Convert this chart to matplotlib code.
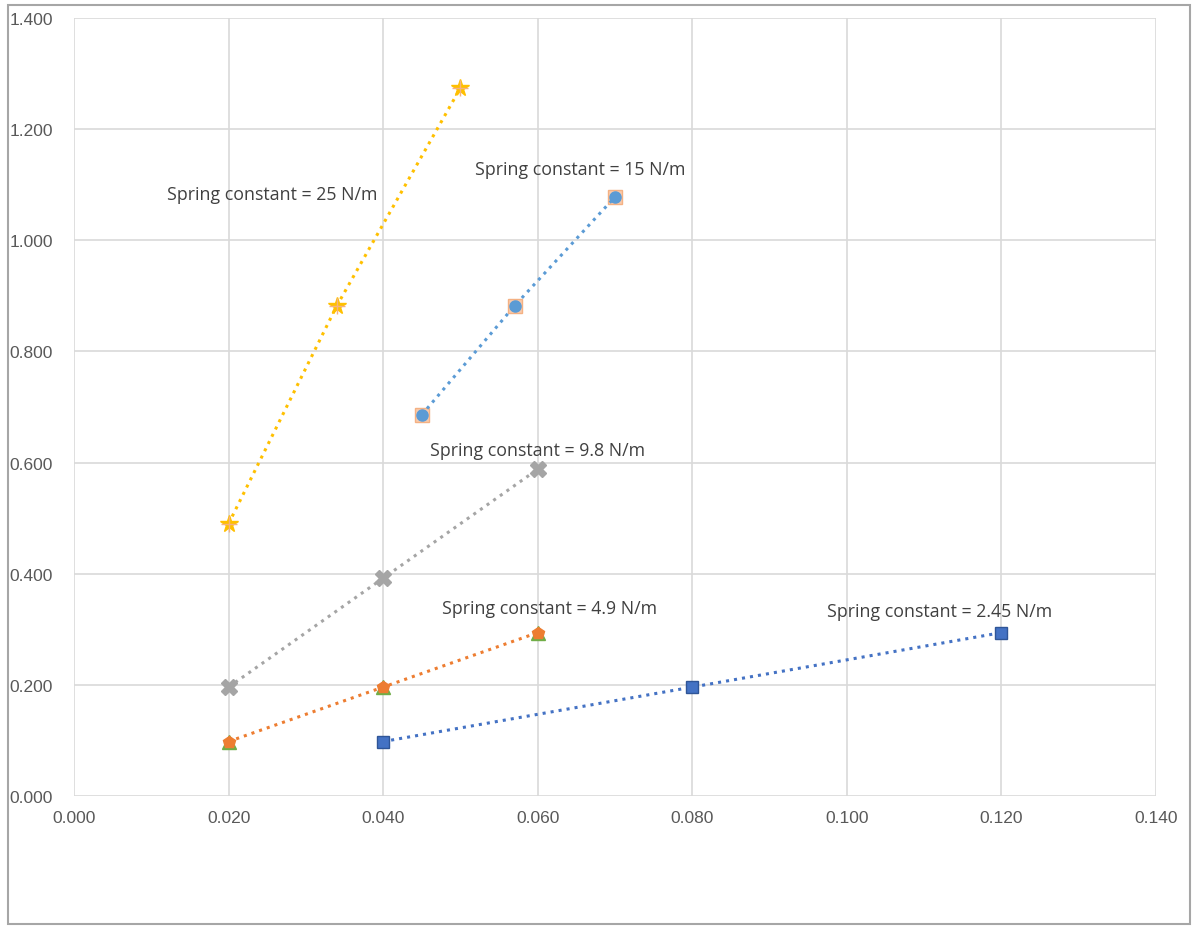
import matplotlib
matplotlib.use("Agg")
import matplotlib.pyplot as plt
from matplotlib.patches import Rectangle

# Data
x_25 = [0.020, 0.034, 0.050]
y_25 = [0.490, 0.882, 1.274]
x_15 = [0.045, 0.057, 0.070]
y_15 = [0.686, 0.882, 1.078]
x_98 = [0.020, 0.040, 0.060]
y_98 = [0.196, 0.392, 0.588]
x_49 = [0.020, 0.040, 0.060]
y_49 = [0.098, 0.196, 0.294]
x_245 = [0.040, 0.080, 0.120]
y_245 = [0.098, 0.196, 0.294]

labels = ["Spring constant = 25 N/m", "Spring constant = 15 N/m",
          "Spring constant = 9.8 N/m", "Spring constant = 4.9 N/m",
          "Spring constant = 2.45 N/m"]
label_pos = [(0.0256, 1.083), (0.0655, 1.128), (0.0600, 0.623),
             (0.0615, 0.338), (0.1120, 0.333)]

xticks = [0.000, 0.020, 0.040, 0.060, 0.080, 0.100, 0.120, 0.140]
yticks = [0.000, 0.200, 0.400, 0.600, 0.800, 1.000, 1.200, 1.400]

fig = plt.figure(figsize=(12, 9.29), dpi=100)
ax = fig.add_axes([74/1200, 1-797/929, (1156-74)/1200, (797-19)/929])

# outer frame
fig.patches.append(Rectangle((8/1200, 4/929), (1190-8)/1200, (927-8)/929,
                             transform=fig.transFigure, fill=False,
                             edgecolor='#A6A6A6', linewidth=1.5))

lw = 2.2
ax.plot(x_25, y_25, linestyle=':', color='#FFC000', linewidth=lw, zorder=2)
ax.plot(x_25, y_25, linestyle='none', marker='*', markersize=13,
        color='#FFC000', markeredgecolor='#FFC000', zorder=3)
ax.plot(x_25, y_25, linestyle='none', marker='+', markersize=12,
        color='#F4B183', markeredgewidth=1, zorder=3)

ax.plot(x_15, y_15, linestyle='none', marker='s', markersize=10,
        color='#F8CBAD', markeredgecolor='#F4B183', zorder=2)
ax.plot(x_15, y_15, linestyle=':', color='#5B9BD5', linewidth=lw, zorder=2)
ax.plot(x_15, y_15, linestyle='none', marker='o', markersize=8,
        color='#5B9BD5', markeredgecolor='#5B9BD5', zorder=3)

ax.plot(x_98, y_98, linestyle=':', color='#A5A5A5', linewidth=lw, zorder=2)
ax.plot(x_98, y_98, linestyle='none', marker='X', markersize=11,
        color='#A5A5A5', markeredgecolor='#A5A5A5', zorder=3)

ax.plot(x_49, y_49, linestyle=':', color='#ED7D31', linewidth=lw, zorder=2)
ax.plot(x_49, y_49, linestyle='none', marker='^', markersize=10,
        color='#70AD47', markeredgecolor='#70AD47', zorder=3)
ax.plot(x_49, y_49, linestyle='none', marker='p', markersize=9,
        color='#ED7D31', markeredgecolor='#ED7D31', zorder=4)

ax.plot(x_245, y_245, linestyle=':', color='#4472C4', linewidth=lw, zorder=2)
ax.plot(x_245, y_245, linestyle='none', marker='s', markersize=9,
        color='#4472C4', markeredgecolor='#2F5597', zorder=3)

for t, (tx, ty) in zip(labels, label_pos):
    ax.text(tx, ty, t, ha='center', va='center', fontsize=12.8,
            family='Open Sans', color='#404040')

ax.set_xlim(0, 0.14)
ax.set_ylim(0, 1.4)
ax.set_xticks(xticks)
ax.set_yticks(yticks)
ax.set_xticklabels([f"{v:.3f}" for v in xticks])
ax.set_yticklabels([f"{v:.3f}" for v in yticks])
ax.grid(True, color='#D9D9D9', linewidth=1.2)
ax.set_axisbelow(True)
for s in ax.spines.values():
    s.set_visible(False)
ax.tick_params(length=0, labelsize=12.5, labelcolor='#595959')
ax.tick_params(axis='y', pad=15)
ax.tick_params(axis='x', pad=10)
for lab in ax.get_xticklabels() + ax.get_yticklabels():
    lab.set_family('Liberation Sans')

fig.savefig('out.png', dpi=100)
